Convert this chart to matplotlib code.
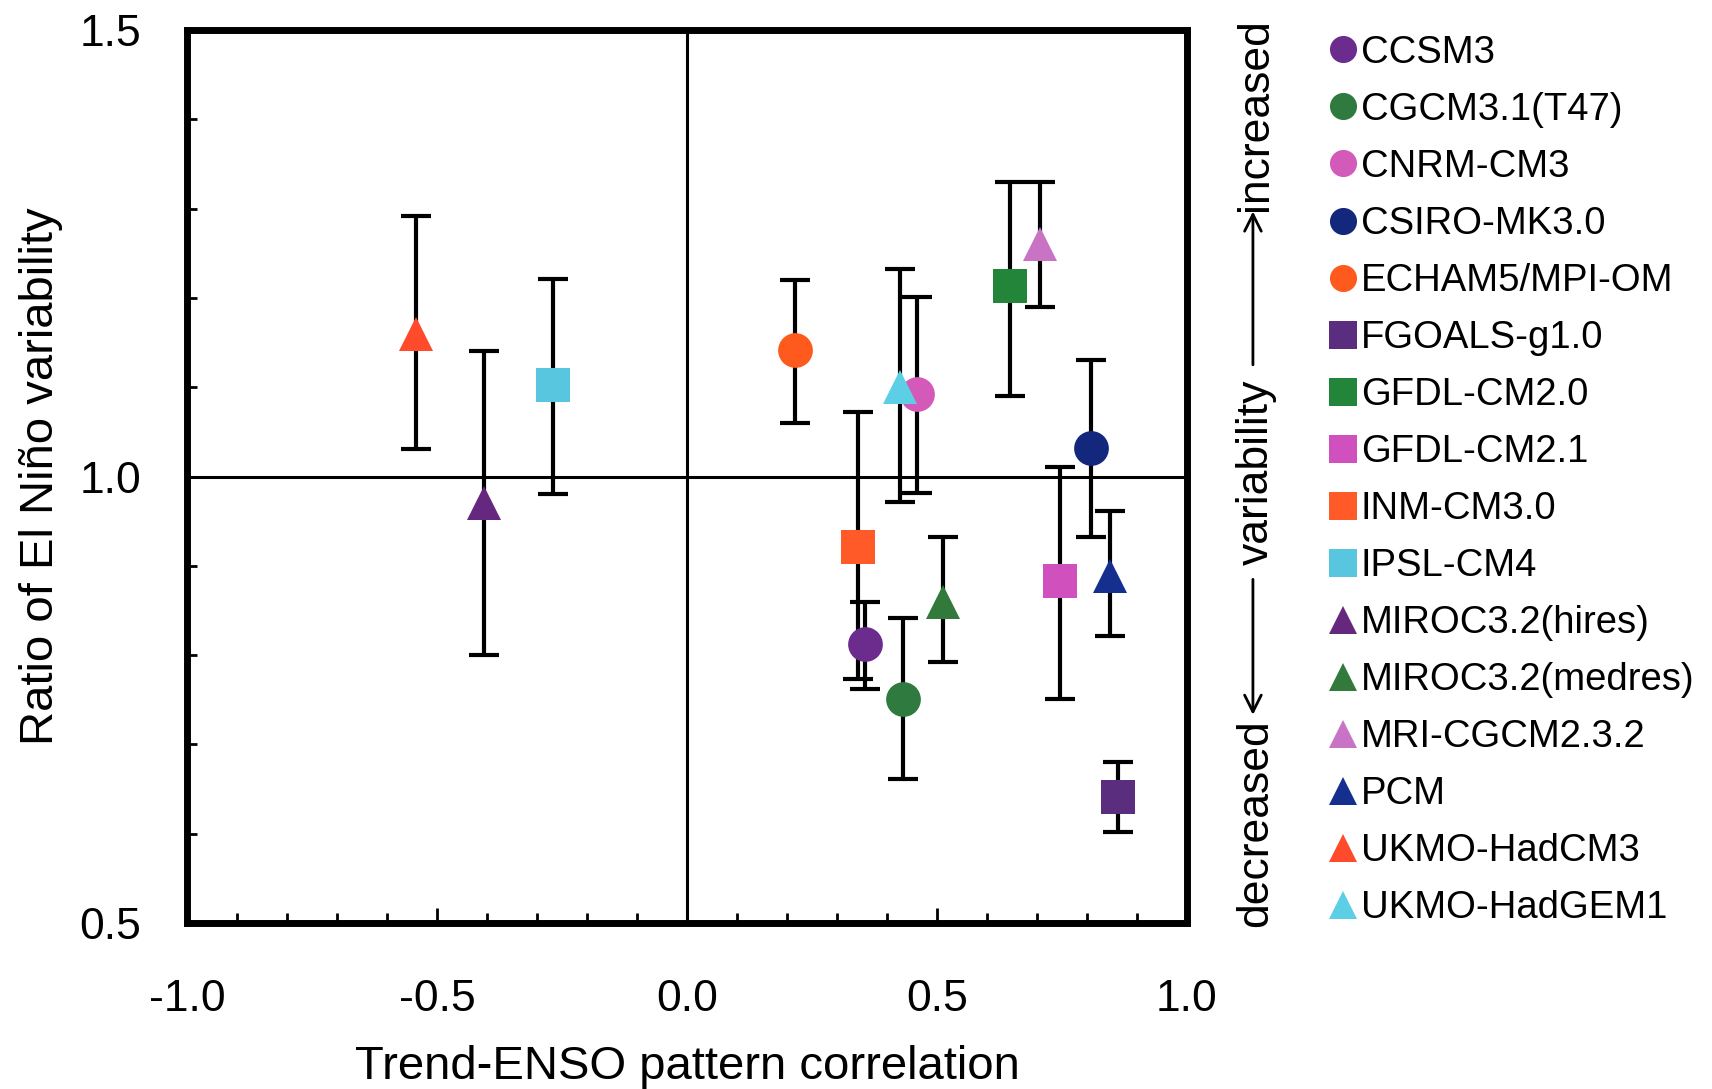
import numpy as np
import matplotlib.pyplot as plt
from matplotlib.ticker import MultipleLocator

plt.rcParams['font.family'] = ['Liberation Sans', 'DejaVu Sans']
plt.rcParams['axes.unicode_minus'] = False

# ------- Data -------

models = ['CCSM3', 'CGCM3.1(T47)', 'CNRM-CM3', 'CSIRO-MK3.0', 'ECHAM5/MPI-OM',
          'FGOALS-g1.0', 'GFDL-CM2.0', 'GFDL-CM2.1', 'INM-CM3.0', 'IPSL-CM4',
          'MIROC3.2(hires)', 'MIROC3.2(medres)', 'MRI-CGCM2.3.2', 'PCM',
          'UKMO-HadCM3', 'UKMO-HadGEM1']
markers = ['o', 'o', 'o', 'o', 'o', 's', 's', 's', 's', 's',
           '^', '^', '^', '^', '^', '^']
colors = ['#6b2c8e', '#2f7a3f', '#d35ab8', '#13287d', '#ff5a1e',
          '#5b2d7e', '#23853a', '#d050bd', '#ff5a28', '#58c6de',
          '#66277f', '#317a3c', '#c973c4', '#152f8e', '#ff4b2b', '#5ccfe6']

corr = np.array([0.356, 0.432, 0.460, 0.808, 0.216,
                 0.862, 0.646, 0.746, 0.342, -0.268,
                 -0.406, 0.512, 0.706, 0.846, -0.542, 0.426])
ratio = np.array([0.812, 0.751, 1.092, 1.032, 1.142,
                  0.641, 1.213, 0.883, 0.921, 1.103,
                  0.970, 0.860, 1.260, 0.889, 1.160, 1.100])
ratio_lo = np.array([0.762, 0.661, 0.982, 0.932, 1.060,
                     0.602, 1.090, 0.751, 0.773, 0.981,
                     0.800, 0.792, 1.190, 0.821, 1.031, 0.971])
ratio_hi = np.array([0.860, 0.842, 1.201, 1.131, 1.220,
                     0.680, 1.330, 1.011, 1.072, 1.221,
                     1.141, 0.932, 1.330, 0.961, 1.292, 1.232])


# ------- Create the figure -------

fig = plt.figure(figsize=(17.12, 10.89), dpi=100)
ax = fig.add_axes([0.1092, 0.1524, 0.5841, 0.8200])

ax.axhline(1.0, color='black', lw=2.2, zorder=1)
ax.axvline(0.0, color='black', lw=2.2, zorder=1)

for i in range(len(models)):
    yerr = [[ratio[i] - ratio_lo[i]], [ratio_hi[i] - ratio[i]]]
    ax.errorbar(corr[i], ratio[i], yerr=yerr, fmt='none', ecolor='black',
                elinewidth=3, capsize=11, capthick=3, zorder=2)
    ax.plot(corr[i], ratio[i], linestyle='none', marker=markers[i], ms=25,
            mew=0, color=colors[i], label=models[i], zorder=3)


# ------- Axes, ticks and labels -------

ax.set_xlim(-1.0, 1.0)
ax.set_ylim(0.5, 1.5)
ax.set_xticks([-1.0, -0.5, 0.0, 0.5, 1.0])
ax.set_yticks([0.5, 1.0, 1.5])
ax.xaxis.set_minor_locator(MultipleLocator(0.1))
ax.yaxis.set_minor_locator(MultipleLocator(0.1))
ax.tick_params(which='both', direction='in', top=False, right=False, width=2, color='black')
ax.tick_params(which='major', length=11, labelsize=32)
ax.tick_params(which='minor', length=7)
ax.tick_params(axis='x', pad=40)
ax.tick_params(axis='y', pad=33)
for s in ax.spines.values():
    s.set_linewidth(5)

ax.set_xlabel('Trend-ENSO pattern correlation', fontsize=34, labelpad=18)
ax.set_ylabel('Ratio of El Niño variability', fontsize=34, labelpad=12)

# right-hand annotation
ax.text(1.069, 0.905, 'increased', rotation=90, fontsize=32, ha='center', va='center',
        transform=ax.transAxes)
ax.text(1.069, 0.505, 'variability', rotation=90, fontsize=32, ha='center', va='center',
        transform=ax.transAxes)
ax.text(1.069, 0.112, 'decreased', rotation=90, fontsize=32, ha='center', va='center',
        transform=ax.transAxes)
arrow = dict(arrowstyle='->', lw=2, color='black', mutation_scale=30)
ax.annotate('', xy=(1.066, 0.800), xytext=(1.066, 0.622), xycoords='axes fraction',
            arrowprops=arrow, annotation_clip=False)
ax.annotate('', xy=(1.066, 0.230), xytext=(1.066, 0.388), xycoords='axes fraction',
            arrowprops=arrow, annotation_clip=False)

# legend
ax.legend(loc='upper left', bbox_to_anchor=(0.776, 0.968), bbox_transform=fig.transFigure,
          frameon=False, fontsize=27.5, numpoints=1, markerscale=0.78,
          handlelength=0.75, handletextpad=0.1, labelspacing=0.55,
          borderpad=0, borderaxespad=0)

plt.savefig('out.png', dpi=100)
